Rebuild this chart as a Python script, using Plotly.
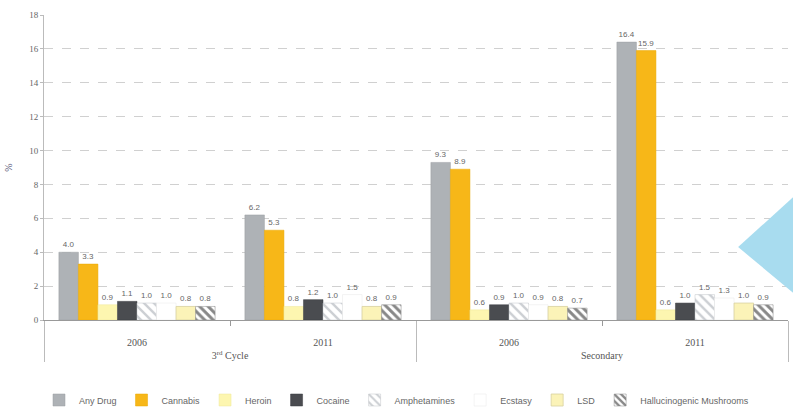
import plotly.graph_objects as go

levels = ["3<sup>rd</sup> Cycle", "3<sup>rd</sup> Cycle", "Secondary", "Secondary"]
years = ["2006", "2011", "2006", "2011"]

series_names = ["Any Drug", "Cannabis", "Heroin", "Cocaine", "Amphetamines",
                "Ecstasy", "LSD", "Hallucinogenic Mushrooms"]
any_drug = [4.0, 6.2, 9.3, 16.4]
cannabis = [3.3, 5.3, 8.9, 15.9]
heroin = [0.9, 0.8, 0.6, 0.6]
cocaine = [1.1, 1.2, 0.9, 1.0]
amphetamines = [1.0, 1.0, 1.0, 1.5]
ecstasy = [1.0, 1.5, 0.9, 1.3]
lsd = [0.8, 0.8, 0.8, 1.0]
mushrooms = [0.8, 0.9, 0.7, 0.9]
values = [any_drug, cannabis, heroin, cocaine, amphetamines, ecstasy, lsd, mushrooms]

styles = [
    dict(color="#aeb2b6", line=dict(color="#9a9ea2", width=0.5)),
    dict(color="#f7b718", line=dict(color="#e8a800", width=0.5)),
    dict(color="#fdf6b0", line=dict(color="#efe79a", width=0.5)),
    dict(color="#4a4c50", line=dict(color="#3a3c40", width=0.5)),
    dict(color="white", line=dict(color="#c0c4c8", width=0.5),
         pattern=dict(shape="\\", fgcolor="#9aa0a8", bgcolor="white", size=7, solidity=0.35)),
    dict(color="white", line=dict(color="#e6e6e6", width=0.5)),
    dict(color="#fbf3b8", line=dict(color="#d8d0a0", width=0.8)),
    dict(color="white", line=dict(color="#888", width=0.5),
         pattern=dict(shape="\\", fgcolor="#111111", bgcolor="white", size=6, solidity=0.5)),
]

fig = go.Figure()
for name, vals, st in zip(series_names, values, styles):
    fig.add_trace(go.Bar(
        name=name, x=[["<br>" + l for l in levels], ["<br>" + y for y in years]],
        y=vals, marker=st,
        text=[f"{v:.1f}" for v in vals], textposition="outside",
        textfont=dict(size=8, color="#666", family="Liberation Sans"),
        cliponaxis=False,
    ))

fig.update_layout(
    width=793, height=409,
    margin=dict(l=44, r=5, t=15, b=89, autoexpand=False),
    paper_bgcolor="white", plot_bgcolor="white",
    barmode="group", bargap=0.16, bargroupgap=0,
    font=dict(family="Liberation Serif", size=10, color="#555"),
    showlegend=True,
    legend=dict(orientation="h", x=0.5, xanchor="center", xref="container",
                y=0.022, yanchor="middle", yref="container",
                font=dict(family="Liberation Sans", size=9, color="#666"),
                tracegroupgap=0),
    yaxis=dict(range=[0, 18], dtick=2, showgrid=True, gridcolor="#d0d0d0",
               griddash="dash", gridwidth=1, zeroline=False, showline=True,
               linecolor="#bbb", ticks="outside", ticklen=3, tickcolor="#bbb",
               title=dict(text="%", font=dict(size=10, color="#557"), standoff=14),
               tickfont=dict(size=9, color="#666")),
    xaxis=dict(type="multicategory", showline=True, linecolor="#999",
               ticks="outside", tickcolor="#999", showdividers=True,
               dividercolor="#bbb", dividerwidth=1, automargin=False,
               tickfont=dict(size=10, color="#555")),
    shapes=[dict(type="path", xref="paper", yref="paper",
                 path="M 0.933 0.239 L 1.007 0.403 L 1.007 0.089 Z",
                 fillcolor="#a8dcef", line=dict(width=0), layer="above")],
)

fig.write_html("out.html")
